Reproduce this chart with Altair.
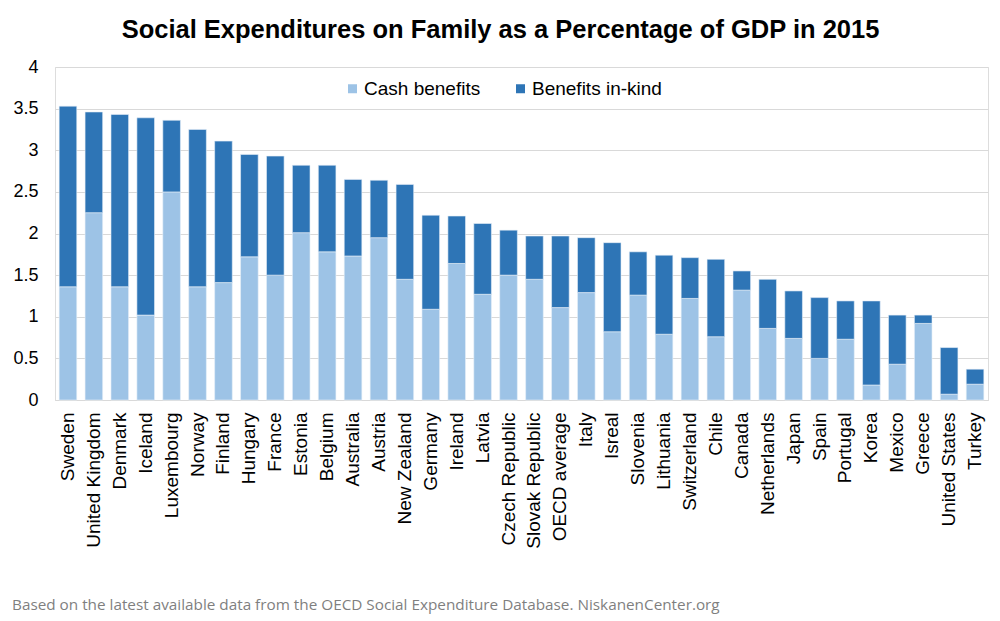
import altair as alt
import pandas as pd

countries = [
    "Sweden", "United Kingdom", "Denmark", "Iceland", "Luxembourg", "Norway",
    "Finland", "Hungary", "France", "Estonia", "Belgium", "Australia",
    "Austria", "New Zealand", "Germany", "Ireland", "Latvia", "Czech Republic",
    "Slovak Republic", "OECD average", "Italy", "Isreal", "Slovenia",
    "Lithuania", "Switzerland", "Chile", "Canada", "Netherlands", "Japan",
    "Spain", "Portugal", "Korea", "Mexico", "Greece", "United States", "Turkey",
]
cash = [
    1.36, 2.25, 1.36, 1.02, 2.50, 1.36, 1.41, 1.72, 1.50, 2.01, 1.78, 1.73,
    1.95, 1.45, 1.09, 1.64, 1.27, 1.50, 1.45, 1.11, 1.29, 0.82, 1.26, 0.79,
    1.22, 0.76, 1.32, 0.86, 0.74, 0.50, 0.73, 0.18, 0.43, 0.92, 0.07, 0.19,
]
in_kind = [
    2.17, 1.21, 2.07, 2.37, 0.86, 1.89, 1.70, 1.23, 1.43, 0.81, 1.04, 0.92,
    0.69, 1.14, 1.13, 0.57, 0.85, 0.54, 0.52, 0.86, 0.66, 1.07, 0.52, 0.95,
    0.49, 0.93, 0.23, 0.59, 0.57, 0.73, 0.46, 1.01, 0.59, 0.10, 0.56, 0.18,
]
series = ["Cash benefits", "Benefits in-kind"]
colors = ["#9dc3e6", "#2e75b6"]
y_ticks = [0, 0.5, 1, 1.5, 2, 2.5, 3, 3.5, 4]

title_text = "Social Expenditures on Family as a Percentage of GDP in 2015"
footer_text = ("Based on the latest available data from the OECD Social "
               "Expenditure Database. NiskanenCenter.org")

rows = []
for c, a, b in zip(countries, cash, in_kind):
    rows.append({"country": c, "series": series[0], "value": a, "rank": 0})
    rows.append({"country": c, "series": series[1], "value": b, "rank": 1})
df = pd.DataFrame(rows)

FONT = "Liberation Sans"

bars = alt.Chart(df).mark_bar(stroke="#e8f0f8", strokeWidth=0.6).encode(
    x=alt.X(
        "country:N",
        sort=countries,
        title=None,
        scale=alt.Scale(paddingInner=0.32, paddingOuter=0.16),
        axis=alt.Axis(
            labelAngle=270,
            labelFont=FONT,
            labelFontSize=19,
            labelColor="#000000",
            labelPadding=12,
            ticks=False,
            domainColor="#d9d9d9",
            domainWidth=1,
            grid=False,
            labelLimit=220,
        ),
    ),
    y=alt.Y(
        "value:Q",
        stack="zero",
        title=None,
        scale=alt.Scale(domain=[0, 4], nice=False),
        axis=alt.Axis(
            values=y_ticks,
            format="~g",
            labelFont=FONT,
            labelFontSize=18,
            labelColor="#000000",
            labelPadding=17,
            ticks=False,
            domain=False,
            gridColor="#d9d9d9",
            gridWidth=1,
        ),
    ),
    color=alt.Color(
        "series:N",
        sort=series,
        scale=alt.Scale(domain=series, range=colors),
        legend=alt.Legend(
            title=None,
            orient="none",
            direction="horizontal",
            legendX=288,
            legendY=12,
            symbolType="square",
            symbolSize=81,
            symbolStrokeWidth=0,
            labelFont=FONT,
            labelFontSize=19,
            labelColor="#000000",
            labelOffset=2,
            columnPadding=30,
        ),
    ),
    order=alt.Order("rank:Q", sort="ascending"),
)

footer = alt.Chart(pd.DataFrame({"t": [footer_text]})).mark_text(
    align="left",
    baseline="alphabetic",
    font="Open Sans",
    fontSize=15.3,
    color="#7f7f7f",
).encode(
    text="t:N",
    x=alt.value(-43),
    y=alt.value(543),
)

chart = alt.layer(bars, footer).properties(
    width=933,
    height=333,
    autosize=alt.AutoSizeParams(type="none"),
    padding={"left": 55, "top": 67, "right": 12, "bottom": 221},
    title=alt.TitleParams(
        title_text,
        font=FONT,
        fontSize=25.5,
        fontWeight="bold",
        color="#000000",
        anchor="middle",
        dx=-21,
        offset=15,
    ),
).configure_view(stroke=None).configure(background="white")

chart.save("out.html", embed_options={"renderer": "svg", "actions": False})
